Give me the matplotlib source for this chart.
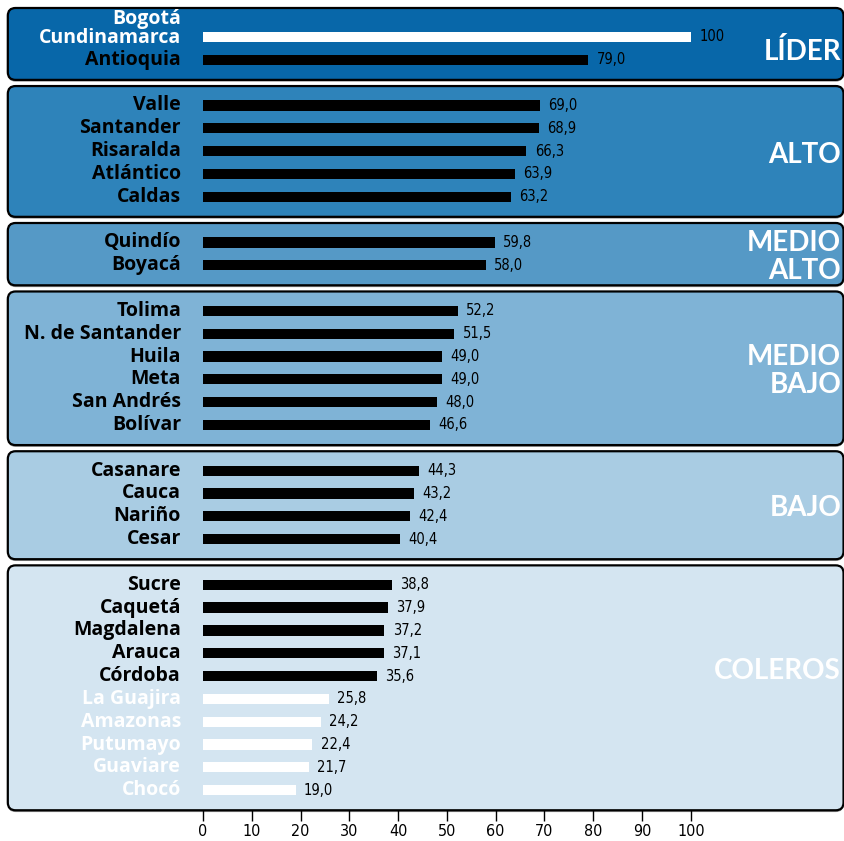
import numpy as np
import matplotlib.pyplot as plt
from matplotlib import font_manager
from matplotlib.patches import FancyBboxPatch

# grupos y departamentos (de arriba hacia abajo)
grupos = ['LÍDER', 'ALTO', 'MEDIO\nALTO', 'MEDIO\nBAJO', 'BAJO', 'COLEROS']
deptos = [
    ['Bogotá\nCundinamarca', 'Antioquia'],
    ['Valle', 'Santander', 'Risaralda', 'Atlántico', 'Caldas'],
    ['Quindío', 'Boyacá'],
    ['Tolima', 'N. de Santander', 'Huila', 'Meta', 'San Andrés', 'Bolívar'],
    ['Casanare', 'Cauca', 'Nariño', 'Cesar'],
    ['Sucre', 'Caquetá', 'Magdalena', 'Arauca', 'Córdoba',
     'La Guajira', 'Amazonas', 'Putumayo', 'Guaviare', 'Chocó'],
]
valores = [
    [100, 79.0],
    [69.0, 68.9, 66.3, 63.9, 63.2],
    [59.8, 58.0],
    [52.2, 51.5, 49.0, 49.0, 48.0, 46.6],
    [44.3, 43.2, 42.4, 40.4],
    [38.8, 37.9, 37.2, 37.1, 35.6, 25.8, 24.2, 22.4, 21.7, 19.0],
]
resaltados = ['Bogotá\nCundinamarca', 'La Guajira', 'Amazonas',
              'Putumayo', 'Guaviare', 'Chocó']
ticks = [0, 10, 20, 30, 40, 50, 60, 70, 80, 90, 100]

colores = ['#0867a9', '#2e83ba', '#5599c6', '#7fb3d6', '#a9cce3', '#d4e5f1']

# fuente angosta para los números, si existe
nombres = {f.name for f in font_manager.fontManager.ttflist}
angostas = [f for f in font_manager.fontManager.ttflist
            if 'condensed' in str(f.stretch) or 'Narrow' in f.name
            or 'Condensed' in f.name]
if 'Liberation Sans Narrow' in nombres:
    NARROW = dict(family=['Liberation Sans Narrow', 'DejaVu Sans'])
elif angostas:
    NARROW = dict(family=[angostas[0].name, 'DejaVu Sans'],
                  stretch=angostas[0].stretch)
else:
    NARROW = dict(family=['Liberation Sans', 'DejaVu Sans'])
BOLD = ['Open Sans', 'DejaVu Sans']
TITULO = ['Lato', 'DejaVu Sans']

fig = plt.figure(figsize=(8.45, 8.41), dpi=100)
ax = fig.add_axes([0, 20 / 841, 1, 821 / 841])
ax.set_xlim(-41.6, 131.6)
ax.set_ylim(34.35, -1.62)

pos = 0
for g, (nombre, deps, vals) in enumerate(zip(grupos, deptos, valores)):
    ys = np.arange(pos, pos + len(deps))
    top = ys[0] - (1.27 if g == 0 else 0.85)
    bot = ys[-1] + 0.88
    sombra = FancyBboxPatch((-40.0, top + 0.08), 171.3, bot - top,
                            boxstyle='round,pad=0,rounding_size=1.6',
                            mutation_aspect=0.214, facecolor='#9a9a9a',
                            edgecolor='none', zorder=0.9)
    ax.add_patch(sombra)
    panel = FancyBboxPatch((-40.0, top), 171.3, bot - top,
                           boxstyle='round,pad=0,rounding_size=1.6',
                           mutation_aspect=0.214,
                           facecolor=colores[g], edgecolor='black',
                           linewidth=1.6, zorder=1)
    ax.add_patch(panel)

    for y, d, v in zip(ys, deps, vals):
        c = 'white' if d in resaltados else 'black'
        ax.barh(y, v, height=0.45, color=c, zorder=3)
        txt = '100' if v == 100 else f'{v:.1f}'.replace('.', ',')
        ax.text(v + 1.7, y, txt, ha='left', va='center', fontsize=10.5,
                color='black', zorder=4, **NARROW)
        ty = y - 0.38 if '\n' in d else y
        ax.text(-4.5, ty, d, ha='right', va='center', fontsize=14,
                fontweight='bold', family=BOLD, color=c,
                linespacing=0.9, zorder=4)

    gy = ys.mean() - (0.85 if g == 5 else 0)
    ax.text(130.8, gy + 0.15, nombre, ha='right', va='center', fontsize=20,
            fontweight='bold', family=TITULO, color='white',
            linespacing=1.1, zorder=4)
    pos += len(deps) + 1

ax.set_xticks(ticks)
ax.set_yticks([])
for s in ax.spines.values():
    s.set_visible(False)
ax.tick_params(axis='x', direction='in', length=8, width=1, pad=2,
               labelsize=11.5)
for lbl in ax.get_xticklabels():
    lbl.set_family(NARROW['family'])
    if 'stretch' in NARROW:
        lbl.set_stretch(NARROW['stretch'])

plt.savefig('out.png')
